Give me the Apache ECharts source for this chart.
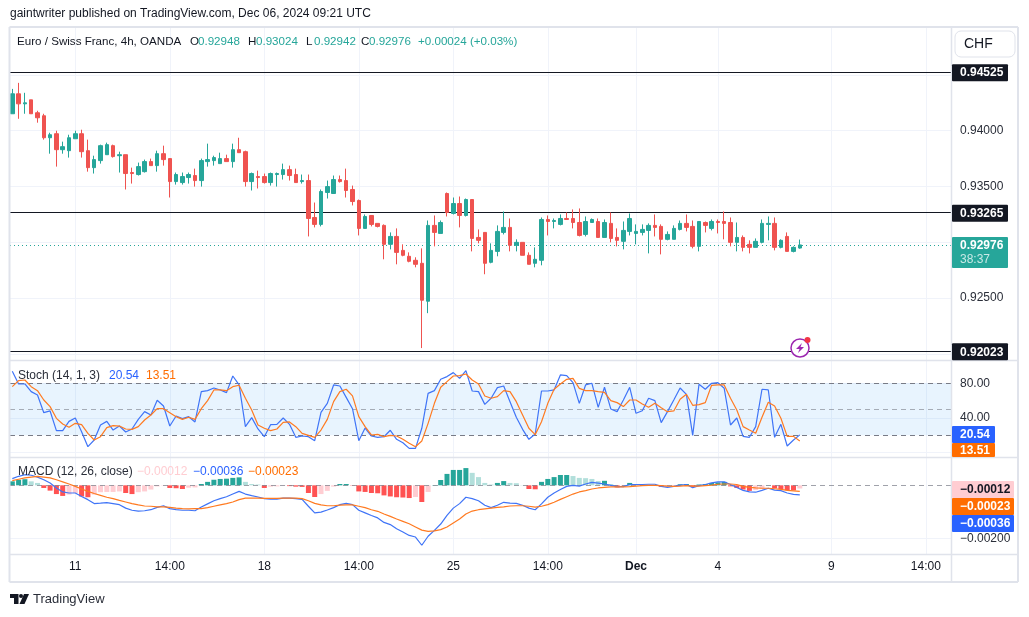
<!doctype html>
<html>
<head>
<meta charset="utf-8">
<title>EUR/CHF 4h</title>
<style>
html,body{margin:0;padding:0;background:#fff;}
#chart{width:1029px;height:617px;}
</style>
<script src="https://cdn.jsdelivr.net/npm/echarts@6/dist/echarts.min.js"></script>
</head>
<body>
<div id="chart"></div>
<script>
// candles
var opens = [.94152,.94331,.94241,.94277,.94161,.94134,.93937,.93973,.93830,.93821,.93928,.93973,.93821,.93669,.93732,.93785,.93866,.93776,.93785,.93625,.93607,.93633,.93723,.93687,.93794,.93750,.93544,.93535,.93580,.93598,.93553,.93723,.93732,.93705,.93750,.93723,.93830,.93812,.93544,.93589,.93589,.93535,.93607,.93607,.93651,.93607,.93544,.93553,.93222,.93160,.93446,.93437,.93562,.93553,.93473,.93374,.93124,.93240,.93169,.93151,.92981,.93052,.92927,.92874,.92838,.92811,.92471,.93151,.93079,.93437,.93258,.93347,.93240,.93383,.93043,.93088,.92820,.92918,.93088,.93133,.92972,.92999,.92883,.92811,.92838,.93204,.93186,.93160,.93213,.93213,.93177,.93070,.93177,.93186,.93043,.93169,.93043,.93008,.93097,.93079,.93088,.93106,.93151,.93142,.93026,.93026,.93115,.93169,.93142,.92963,.93177,.93124,.93186,.93186,.93177,.92999,.93043,.92981,.92954,.92999,.93160,.93169,.92954,.93052,.92918,.92948];
var closes = [.94331,.94241,.94250,.94152,.94116,.93937,.93964,.93830,.93857,.93937,.93973,.93812,.93669,.93741,.93866,.93875,.93768,.93785,.93616,.93616,.93678,.93723,.93687,.93794,.93741,.93544,.93607,.93589,.93607,.93553,.93732,.93741,.93759,.93750,.93723,.93830,.93803,.93544,.93616,.93580,.93535,.93616,.93616,.93651,.93598,.93535,.93553,.93213,.93160,.93455,.93499,.93562,.93544,.93464,.93365,.93124,.93231,.93160,.93142,.92981,.93052,.92909,.92883,.92829,.92802,.92480,.93151,.93088,.93177,.93267,.93347,.93240,.93383,.93034,.93017,.92811,.92927,.93097,.93133,.92972,.92999,.92883,.92802,.92847,.93204,.93186,.93195,.93213,.93204,.93177,.93061,.93186,.93204,.93043,.93177,.93034,.93017,.93106,.93213,.93097,.93115,.93151,.93133,.93026,.93070,.93124,.93169,.93133,.92963,.93186,.93151,.93186,.93177,.93169,.92999,.93043,.92954,.92954,.93008,.93169,.93169,.92954,.93017,.92918,.92954,.92976];
var lows = [.94152,.94107,.94152,.94152,.94072,.93920,.93794,.93678,.93794,.93759,.93928,.93759,.93633,.93616,.93705,.93785,.93759,.93625,.93473,.93526,.93598,.93625,.93687,.93633,.93687,.93401,.93517,.93517,.93526,.93499,.93499,.93678,.93687,.93705,.93723,.93669,.93803,.93499,.93464,.93482,.93526,.93508,.93499,.93562,.93553,.93535,.93526,.93052,.93133,.93142,.93392,.93437,.93535,.93401,.93330,.93061,.93124,.93142,.93133,.92847,.92936,.92802,.92874,.92820,.92775,.92051,.92364,.92963,.93079,.93231,.93249,.93133,.93231,.92918,.92990,.92713,.92811,.92874,.93070,.92918,.92918,.92883,.92802,.92775,.92793,.93061,.93124,.93151,.93204,.93124,.93052,.93052,.93177,.93043,.93043,.92999,.92963,.92936,.93061,.92981,.93061,.92900,.93052,.92891,.93017,.93026,.93106,.93097,.92945,.92918,.93088,.93106,.93079,.93026,.92963,.92918,.92918,.92900,.92954,.92990,.93017,.92927,.92945,.92918,.92909,.92942];
var highs = [.94375,.94429,.94340,.94277,.94179,.94152,.93982,.94000,.93902,.93964,.94000,.94009,.93920,.93776,.93875,.93893,.93875,.93812,.93785,.93669,.93714,.93741,.93750,.93821,.93866,.93750,.93625,.93625,.93625,.93660,.93750,.93884,.93776,.93803,.93785,.93884,.93937,.93821,.93625,.93642,.93616,.93625,.93625,.93705,.93687,.93660,.93607,.93607,.93356,.93473,.93553,.93598,.93598,.93660,.93508,.93383,.93249,.93240,.93169,.93160,.93088,.93124,.92981,.92909,.92865,.92945,.93195,.93240,.93195,.93446,.93401,.93410,.93392,.93383,.93115,.93088,.92990,.93151,.93276,.93213,.93026,.92999,.92909,.92954,.93222,.93240,.93213,.93249,.93267,.93294,.93303,.93231,.93213,.93213,.93204,.93267,.93124,.93186,.93258,.93160,.93160,.93169,.93249,.93160,.93097,.93151,.93195,.93249,.93195,.93186,.93186,.93204,.93204,.93276,.93222,.93177,.93061,.93017,.93034,.93204,.93231,.93222,.93026,.93088,.92963,.93024];

// stochastic
var stochK = [93.8,79.2,79.2,70.4,66.5,46.1,48.1,25.4,25.4,36.1,40.0,24.2,6.9,14.6,31.9,36.1,26.1,30.7,23.8,27.3,38.4,47.3,43.4,60.4,53.8,30.7,42.3,39.2,41.5,35.4,70.4,71.5,74.6,72.3,69.2,88.4,78.1,30.0,40.4,27.3,18.4,32.3,32.7,40.0,32.7,17.7,19.2,18.4,13.8,46.5,56.9,78.1,76.9,63.8,50.7,13.8,28.4,19.2,17.7,18.4,25.8,15.4,11.5,5.0,5.0,28.1,68.4,71.5,84.6,87.7,92.3,85.7,94.6,71.1,70.4,55.7,62.7,75.0,76.9,58.8,40.8,26.9,15.4,21.5,71.1,71.1,72.3,89.6,88.8,80.7,56.9,78.1,80.0,52.3,75.4,50.4,47.3,60.7,75.4,45.4,48.4,62.7,60.0,34.6,47.3,60.7,74.6,67.3,20.0,78.8,73.1,80.0,80.7,74.2,31.9,40.0,18.8,17.7,30.0,73.1,72.3,17.7,32.7,7.7,14.6,20.54];
var stochD = [76.1,83.1,83.8,76.1,71.5,60.7,53.1,39.6,33.1,29.2,33.8,32.3,22.3,14.6,18.4,28.8,31.1,30.7,27.3,26.9,30.0,37.7,43.4,50.7,50.7,46.1,41.5,38.4,40.8,38.4,50.7,60.0,72.3,72.3,71.5,76.1,77.7,62.7,49.2,31.9,28.1,25.4,27.3,35.0,35.4,30.0,22.3,20.0,17.7,26.1,38.4,58.8,70.4,73.1,65.4,41.5,30.0,20.4,21.1,18.4,20.0,19.2,15.4,10.8,6.9,13.4,33.8,56.9,75.4,81.9,88.4,88.8,90.7,83.8,79.2,65.4,62.7,64.6,71.5,70.4,58.8,43.4,28.1,20.8,35.7,56.9,73.1,79.2,84.6,85.7,74.2,71.5,71.5,70.4,69.6,60.0,57.7,53.1,60.7,60.7,56.1,52.3,56.9,51.9,47.3,48.1,61.5,67.3,54.6,55.4,57.7,77.7,78.1,78.1,62.7,49.2,30.0,26.1,22.3,40.8,58.1,53.8,39.6,18.8,18.8,13.51];

// macd, in units of 0.00001
var macdLine = [25,34,40,38,31,21,9,-10,-25,-29,-29,-42,-54,-69,-67,-65,-69,-73,-86,-94,-97,-96,-92,-83,-77,-88,-92,-94,-94,-96,-82,-70,-58,-50,-43,-33,-23,-33,-39,-44,-50,-52,-52,-48,-48,-50,-53,-79,-104,-101,-93,-84,-73,-68,-73,-94,-104,-114,-123,-140,-148,-164,-176,-189,-195,-226,-192,-170,-146,-113,-86,-69,-45,-50,-58,-75,-84,-75,-64,-67,-68,-75,-86,-92,-70,-45,-29,-16,-4,0,-3,5,11,8,5,0,-5,-5,3,3,3,4,4,-4,-8,-4,1,3,-9,-1,3,9,13,13,3,-8,-19,-25,-26,-19,-11,-18,-20,-29,-34,-36];
var macdSignal = [18,23,28,31,34,31,28,21,13,5,-4,-14,-23,-31,-38,-45,-50,-57,-63,-69,-74,-78,-79,-81,-81,-83,-86,-88,-89,-88,-88,-84,-79,-74,-69,-63,-54,-48,-48,-48,-49,-49,-49,-48,-48,-48,-50,-58,-68,-74,-77,-77,-75,-74,-74,-79,-84,-92,-98,-108,-117,-127,-136,-145,-157,-169,-174,-172,-167,-157,-142,-127,-108,-97,-92,-89,-86,-83,-81,-78,-77,-77,-79,-82,-79,-73,-64,-53,-43,-33,-25,-20,-14,-10,-8,-6,-6,-6,-5,-3,-1,0,0,-1,-3,-4,-3,-1,-3,-3,-1,1,4,5,5,3,-4,-8,-10,-11,-11,-13,-15,-19,-21,-23];
var macdHist = [15,21,23,15,9,-10,-20,-33,-40,-35,-29,-42,-45,-35,-26,-25,-25,-23,-29,-33,-26,-23,-16,-4,-1,-10,-11,-14,-9,-8,5,13,21,24,25,28,30,13,5,3,-10,-5,-4,-1,-3,-5,-6,-29,-44,-33,-21,-5,5,5,-1,-23,-25,-29,-30,-38,-42,-45,-46,-48,-44,-63,-25,1,20,43,58,58,65,47,31,9,3,9,16,9,8,1,-14,-15,13,24,31,39,39,35,28,27,24,16,17,5,-8,-4,9,5,3,2,-1,-6,-5,-3,4,5,-6,3,5,9,11,13,-4,-10,-16,-21,-18,-14,1,-11,-14,-18,-19,-12];

// axis ticks
var timeTickBars = [10,25,40,55,70,85,99,112,130,145];
var timeTickLabels = ['11','14:00','18','14:00','25','14:00','Dec','4','9','14:00'];
var priceGrid = [.92,.925,.93,.935,.94,.945];
var priceLabels = [.925,.935,.94];
var levels = [.94525,.93265,.92023];
var lastPrice = .92976;

// pane layout
var L = 10, W = 941;
var panes = [{top:27,height:333},{top:361,height:96},{top:458,height:96}];
var xMin = -0.365, xMax = 149;

var font = '"Liberation Sans", Arial, sans-serif';
var ink = '#131722', gridCol = '#f0f3fa', frameCol = '#e0e3eb', dashCol = '#787b86';
var up = '#26a69a', down = '#ef5350', blue = '#2962ff', orange = '#ff6d00';

function xAxisFor(i) {
    return {
        type:'value', gridIndex:i, min:xMin, max:xMax, position:'bottom',
        axisLine:{show:false},
        axisTick:{show:false, customValues:timeTickBars},
        splitLine:{show:true, lineStyle:{color:gridCol, width:1}},
        axisLabel:{
            show:i === 2, customValues:timeTickBars, margin:7, color:ink, fontSize:12, fontFamily:font,
            formatter:function (v) {
                var s = timeTickLabels[timeTickBars.indexOf(v)];
                return s === 'Dec' ? '{b|Dec}' : s;
            },
            rich:{b:{fontWeight:'bold', fontSize:12, fontFamily:font, color:ink}}
        }
    };
}
function yAxisFor(i, min, max, ticks, labels, fmt) {
    return {
        type:'value', gridIndex:i, position:'right', min:min, max:max,
        axisLine:{show:false},
        axisTick:{show:false, customValues:ticks},
        splitLine:{show:true, lineStyle:{color:gridCol, width:1}},
        axisLabel:{show:true, customValues:labels, margin:9, color:'#2a2e39', fontSize:12, fontFamily:font, formatter:fmt}
    };
}
function hline(v, color, width, type) {
    return {yAxis:v, lineStyle:{color:color, width:width, type:type}};
}
function lineSeries(i, name, vals, color) {
    return {
        name:name, type:'line', xAxisIndex:i, yAxisIndex:i, symbol:'none', silent:true, animation:false, z:5,
        lineStyle:{color:color, width:1.2},
        data:vals.map(function (v, n) { return [n, v]; })
    };
}
function minus(v) { return String(v.toFixed(5)).replace('-', '\u2212'); }

var candleData = opens.map(function (o, n) { return [n, o, closes[n], lows[n], highs[n]]; });

var histData = macdHist.map(function (v, n) {
    var prev = n ? macdHist[n - 1] : 0;
    var color = v >= 0 ? (v >= prev ? '#26a69a' : '#b2dfdb') : (v < prev ? '#ff5252' : '#ffcdd2');
    return {value:[n, v / 1e5], itemStyle:{color:color}};
});
function scaled(a) { return a.map(function (v) { return v / 1e5; }); }

var chart = echarts.init(document.getElementById('chart'), null, {renderer:'canvas'});

chart.setOption({
    animation:false,
    backgroundColor:'#fff',
    grid:panes.map(function (p) { return {left:L, width:W, top:p.top, height:p.height, containLabel:false}; }),
    xAxis:[xAxisFor(0), xAxisFor(1), xAxisFor(2)],
    yAxis:[
        yAxisFor(0, .91944, .94930, priceGrid, priceLabels, function (v) { return v.toFixed(5); }),
        yAxisFor(1, -5, 105.7, [0, 40, 80], [40, 80], function (v) { return v.toFixed(2); }),
        yAxisFor(2, -.00259, .00103, [-.002], [-.002], function (v) { return minus(v); })
    ],
    series:[
        {
            name:'EURCHF', type:'candlestick', xAxisIndex:0, yAxisIndex:0, barWidth:4, silent:true, animation:false, z:5,
            encode:{x:0, y:[1, 2, 3, 4]},
            itemStyle:{color:up, color0:down, borderColor:up, borderColor0:down, borderColorDoji:up, borderWidth:1},
            data:candleData,
            markLine:{
                silent:true, symbol:'none', animation:false, precision:5, label:{show:false},
                data:levels.map(function (v) { return hline(v, ink, 1.2, 'solid'); })
                    .concat([hline(lastPrice, up, 1, [1, 3])])
            }
        },
        {
            name:'band', type:'line', xAxisIndex:1, yAxisIndex:1, symbol:'none', silent:true, animation:false, z:2,
            lineStyle:{opacity:0}, data:[],
            markArea:{silent:true, animation:false, itemStyle:{color:'rgba(33,150,243,0.1)'}, data:[[{yAxis:80}, {yAxis:20}]]},
            markLine:{
                silent:true, symbol:'none', animation:false, label:{show:false},
                data:[hline(80, dashCol, 1, [5, 4]), hline(50, 'rgba(120,123,134,0.6)', 1, [5, 4]), hline(20, dashCol, 1, [5, 4])]
            }
        },
        lineSeries(1, '%K', stochK, '#3f74f7'),
        lineSeries(1, '%D', stochD, '#ff7a20'),
        {
            name:'Histogram', type:'bar', xAxisIndex:2, yAxisIndex:2, barWidth:5, silent:true, animation:false, z:3,
            data:histData,
            markLine:{
                silent:true, symbol:'none', animation:false, precision:5, label:{show:false},
                data:[hline(0, 'rgba(120,123,134,0.7)', 1, [5, 4])]
            }
        },
        lineSeries(2, 'MACD', scaled(macdLine), '#3f74f7'),
        lineSeries(2, 'Signal', scaled(macdSignal), '#ff7a20')
    ]
});

function txt(x, y, s, color, size, weight, align) {
    return {type:'text', x:x, y:y, z:30, silent:true,
        style:{text:s, fill:color, fontSize:size || 12, fontFamily:font, fontWeight:weight || 'normal',
            align:align || 'left', verticalAlign:'middle'}};
}
function box(x, y, w, h, fill, r) {
    return {type:'rect', z:28, silent:true, shape:{x:x, y:y, width:w, height:h, r:r || 0}, style:{fill:fill}};
}
function rule(x1, y1, x2, y2, width) {
    return {type:'line', z:26, silent:true, shape:{x1:x1, y1:y1, x2:x2, y2:y2},
        style:{stroke:frameCol, lineWidth:width || 1}};
}
function tag(x, y, w, h, fill, color, s, tx) {
    return [box(x, y, w, h, fill, 1), txt(tx || x + 8, y + h / 2 + .5, s, color, 12, 'bold')];
}
function priceY(v) { return chart.convertToPixel({yAxisIndex:0}, v); }

var legendSize = 11.6;
var g = [
    txt(10, 14, 'gaintwriter published on TradingView.com, Dec 06, 2024 09:21 UTC', ink, 12),
    // frame
    rule(9.5, 27, 1018, 27, 2), rule(9.5, 27, 9.5, 582, 2), rule(1018, 27, 1018, 582, 2), rule(9.5, 582, 1018, 582, 2),
    rule(951.5, 27, 951.5, 582, 1.5), rule(10, 360.5, 1018, 360.5, 1.5), rule(10, 457.5, 1018, 457.5, 1.5), rule(10, 554.5, 1018, 554.5, 1.5),
    // currency button
    {type:'rect', z:27, silent:true, shape:{x:955, y:31, width:60, height:26, r:6}, style:{fill:'#fff', stroke:frameCol, lineWidth:1}},
    txt(964, 44, 'CHF', ink, 14),
    // main legend
    txt(17, 41.5, 'Euro / Swiss Franc, 4h, OANDA', ink, legendSize),
    txt(190, 41.5, 'O', ink, legendSize), txt(198, 41.5, '0.92948', up, legendSize),
    txt(248, 41.5, 'H', ink, legendSize), txt(256, 41.5, '0.93024', up, legendSize),
    txt(306, 41.5, 'L', ink, legendSize), txt(314, 41.5, '0.92942', up, legendSize),
    txt(361, 41.5, 'C', ink, legendSize), txt(369, 41.5, '0.92976', up, legendSize),
    txt(418, 41.5, '+0.00024 (+0.03%)', up, legendSize),
    // stoch legend
    txt(18, 376, 'Stoch (14, 1, 3)', '#2a2e39', 12),
    txt(109, 376, '20.54', blue, 12), txt(146, 376, '13.51', orange, 12),
    // macd legend
    txt(18, 472, 'MACD (12, 26, close)', '#2a2e39', 12),
    txt(137, 472, '\u22120.00012', '#ffcdd2', 12), txt(193, 472, '\u22120.00036', blue, 12), txt(248, 472, '\u22120.00023', orange, 12),
    // logo
    {type:'polygon', z:30, silent:true, shape:{points:[[10,594],[18.5,594],[18.5,604],[14,604],[14,598],[10,598]]}, style:{fill:ink}},
    {type:'circle', z:30, silent:true, shape:{cx:21, cy:596, r:2}, style:{fill:ink}},
    {type:'polygon', z:30, silent:true, shape:{points:[[24,594],[29,594],[24.5,604],[19.5,604]]}, style:{fill:ink}},
    txt(33, 599.5, 'TradingView', '#2a2e39', 13),
    // lightning badge
    {type:'circle', z:30, silent:true, shape:{cx:800, cy:348, r:9}, style:{fill:'#fff', stroke:'#9c27b0', lineWidth:1.5}},
    {type:'polygon', z:31, silent:true, shape:{points:[[802,343],[796,349],[799.5,349],[798,353],[804,347],[800.5,347]]}, style:{fill:'#9c27b0'}},
    {type:'circle', z:32, silent:true, shape:{cx:807.5, cy:340, r:3}, style:{fill:'#f23645'}}
];

levels.forEach(function (v) {
    g = g.concat(tag(952, priceY(v) - 8, 56, 17, ink, '#fff', v.toFixed(5), 960));
});
// last price tag with countdown
var lastY = priceY(lastPrice);
g.push(box(952, lastY - 8, 56, 31, up, 1));
g.push(txt(960, lastY + .5, lastPrice.toFixed(5), '#fff', 12, 'bold'));
g.push(txt(960, lastY + 15, '38:37', 'rgba(255,255,255,0.75)', 12));
// stacked indicator tags
g = g.concat(tag(952, 426, 43, 17, blue, '#fff', '20.54', 960));
g = g.concat(tag(952, 443, 43, 14, orange, '#fff', '13.51', 960));
g = g.concat(tag(952, 481, 62, 17, '#ffcdd2', ink, '\u22120.00012', 960));
g = g.concat(tag(952, 498, 62, 17, orange, '#fff', '\u22120.00023', 960));
g = g.concat(tag(952, 515, 62, 17, blue, '#fff', '\u22120.00036', 960));

chart.setOption({graphic:g});
</script>
</body>
</html>
